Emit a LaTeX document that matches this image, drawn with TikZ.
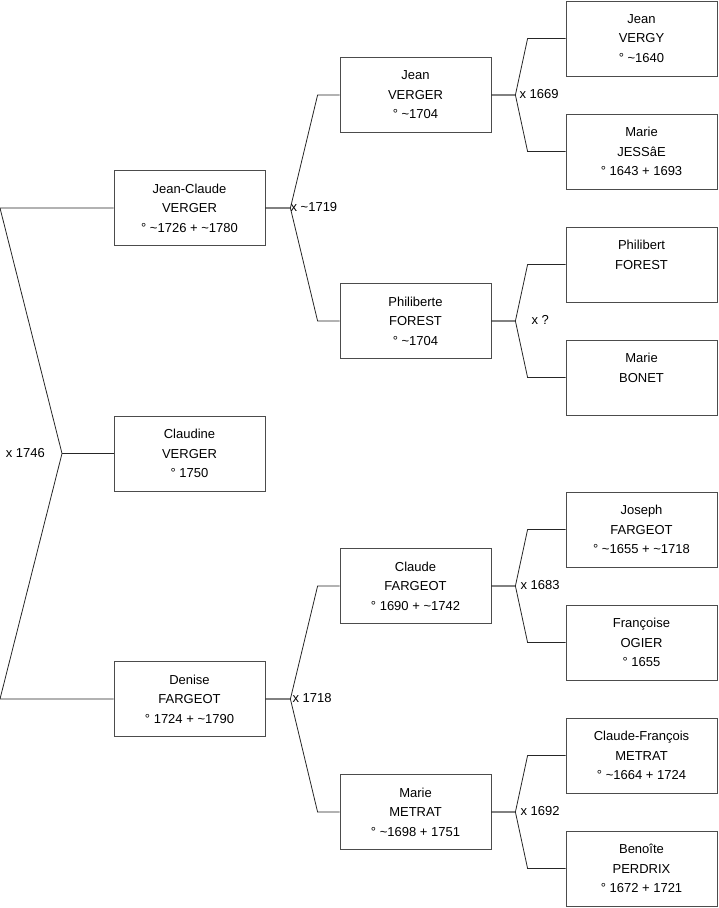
\documentclass[tikz,border=0pt]{standalone}
\usepackage{fontspec}
\setmainfont{Liberation Sans}
\usetikzlibrary{trees}
\newcommand{\circa}{\textasciitilde}

\begin{document}
\begin{tikzpicture}[grow'=right, level distance=226pt,
  every node/.style={font=\fontsize{13pt}{19.5pt}\selectfont},
  person/.style={draw=black!70, line width=0.8pt, minimum width=151pt,
    minimum height=75pt, align=center, inner sep=0pt},
  link/.style={draw=black!85, line width=0.8pt},
  level 1/.style={sibling distance=245.5pt, edge from parent/.style={draw=none}},
  level 2/.style={sibling distance=226pt, edge from parent/.style={link},
    edge from parent path={(\tikzparentnode.east) -- +(25pt,0)
      -- ([xshift=-22pt]\tikzchildnode.west) -- (\tikzchildnode.west)}},
  level 3/.style={sibling distance=113pt,
    edge from parent path={(\tikzparentnode.east) -- +(24pt,0)
      -- ([xshift=-38pt]\tikzchildnode.west) -- (\tikzchildnode.west)}}]
\useasboundingbox (0,0) rectangle (719pt,-908pt);
\node[coordinate] (root) at (-36.5pt,-453.5pt) {}
  child {node[person] (jeanclaude) {Jean-Claude\\VERGER\\° \circa 1726 + \circa 1780}
    child {node[person] (jean) {Jean\\VERGER\\° \circa 1704}
      child {node[person] (jeanvergy) {Jean\\VERGY\\° \circa 1640}}
      child {node[person] (mariej) {Marie\\JESSâE\\° 1643 + 1693}}
    }
    child {node[person] (philiberte) {Philiberte\\FOREST\\° \circa 1704}
      child {node[person] (philibert) {Philibert\\FOREST\\\mbox{}}}
      child {node[person] (marieb) {Marie\\BONET\\\mbox{}}}
    }
  }
  child {node[person] (claudine) {Claudine\\VERGER\\° 1750}}
  child {node[person] (denise) {Denise\\FARGEOT\\° 1724 + \circa 1790}
    child {node[person] (claude) {Claude\\FARGEOT\\° 1690 + \circa 1742}
      child {node[person] (joseph) {Joseph\\FARGEOT\\° \circa 1655 + \circa 1718}}
      child {node[person] (francoise) {Françoise\\OGIER\\° 1655}}
    }
    child {node[person] (mariem) {Marie\\METRAT\\° \circa 1698 + 1751}
      child {node[person] (claudefr) {Claude-François\\METRAT\\° \circa 1664 + 1724}}
      child {node[person] (benoite) {Benoîte\\PERDRIX\\° 1672 + 1721}}
    }
  };

% left fork
\coordinate (leftedge) at (0,0);
\coordinate (fork) at (62pt,-453.5pt);
\draw[link] (jeanclaude.west) -- (jeanclaude.west -| leftedge) -- (fork)
  -- (denise.west -| leftedge) -- (denise.west);
\draw[link] (fork) -- (claudine.west);

% marriages
\node[anchor=east, inner sep=0pt] (x1746) at ([xshift=-17pt]fork) {x 1746};
\node[anchor=west, inner sep=0pt] (x1719) at ([xshift=25pt,yshift=1pt]jeanclaude.east) {x \circa 1719};
\node[anchor=west, inner sep=0pt] (x1669) at ([xshift=28pt,yshift=1pt]jean.east) {x 1669};
\node[anchor=west, inner sep=0pt] (xq) at ([xshift=40pt,yshift=1pt]philiberte.east) {x ?};
\node[anchor=west, inner sep=0pt] (x1718) at ([xshift=27pt,yshift=1pt]denise.east) {x 1718};
\node[anchor=west, inner sep=0pt] (x1683) at ([xshift=29pt,yshift=1pt]claude.east) {x 1683};
\node[anchor=west, inner sep=0pt] (x1692) at ([xshift=29pt,yshift=1pt]mariem.east) {x 1692};
\end{tikzpicture}
\end{document}
